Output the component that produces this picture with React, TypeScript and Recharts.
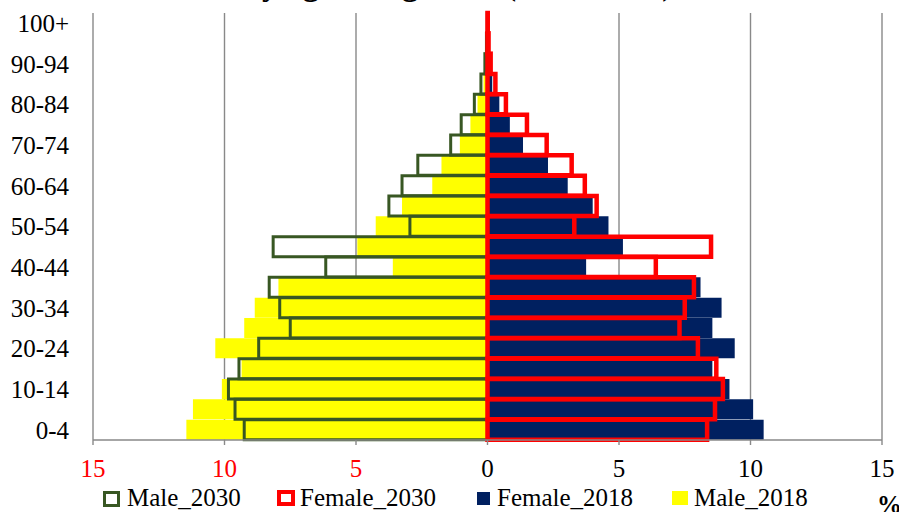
import React from 'react';
import { BarChart, Bar, XAxis, YAxis, CartesianGrid, Legend } from 'recharts';

// age groups, bottom row first
const ageGroups = [
  '0-4', '5-9', '10-14', '15-19', '20-24', '25-29', '30-34', '35-39', '40-44', '45-49',
  '50-54', '55-59', '60-64', '65-69', '70-74', '75-79', '80-84', '85-89', '90-94', '95-99', '100+',
];

// shares in % (male drawn to the left)
const male2018 = [11.45, 11.2, 10.1, 9.35, 10.35, 9.25, 8.85, 7.95, 3.6, 4.95, 4.25, 3.25, 2.1, 1.75, 1.05, 0.65, 0.38, 0.15, 0.06, 0.02, 0.01];
const male2030 = [9.25, 9.6, 9.85, 9.45, 8.7, 7.5, 7.9, 8.3, 6.15, 8.15, 2.95, 3.75, 3.25, 2.65, 1.4, 1.0, 0.5, 0.25, 0.1, 0.04, 0.01];
const female2018 = [10.5, 10.1, 9.2, 8.55, 9.4, 8.55, 8.9, 8.1, 3.75, 5.15, 4.6, 4.0, 3.05, 2.3, 1.35, 0.85, 0.45, 0.18, 0.07, 0.02, 0.01];
const female2030 = [8.35, 8.65, 8.95, 8.7, 8.0, 7.3, 7.5, 7.85, 6.4, 8.5, 3.3, 4.15, 3.7, 3.2, 2.25, 1.5, 0.7, 0.3, 0.12, 0.04, 0.01];

const xTicks = [-15, -10, -5, 0, 5, 10, 15];

const chartData = ageGroups.map((age, i) => ({
  age,
  Male_2018: -male2018[i],
  Female_2018: female2018[i],
  Male_2030: -male2030[i],
  Female_2030: female2030[i],
}));

const FONT = '"Liberation Serif", "Times New Roman", serif';
const GRID = '#898989';

const XTick = (props: any) => {
  const { x, y, payload } = props;
  const v = payload.value;
  return (
    <text x={x} y={y} dy="0.71em" textAnchor="middle" fontSize={25} fontFamily={FONT} fill={v < 0 ? '#FF0000' : '#000000'}>
      {Math.abs(v)}
    </text>
  );
};

const legendItems = [
  { name: 'Male_2030', left: 103, textLeft: 127, icon: { top: 10.5, width: 17, height: 16, background: '#fff', border: '3px solid #385723' } },
  { name: 'Female_2030', left: 277, textLeft: 300, icon: { top: 9.5, width: 18, height: 16, background: '#fff', border: '4px solid #FF0000' } },
  { name: 'Female_2018', left: 477, textLeft: 497, icon: { top: 11.5, width: 13, height: 13, background: '#002060' } },
  { name: 'Male_2018', left: 672, textLeft: 694, icon: { top: 10.5, width: 16, height: 14, background: '#FFFF00' } },
];

const PyramidLegend = () => (
  <div style={{ position: 'relative', width: 899, height: 32 }}>
    {legendItems.map((it) => (
      <React.Fragment key={it.name}>
        <div style={{ position: 'absolute', left: it.left, boxSizing: 'border-box', ...it.icon }} />
        <div style={{ position: 'absolute', left: it.textLeft, top: 4, fontFamily: FONT, fontSize: 25, color: '#000', whiteSpace: 'nowrap' }}>
          {it.name}
        </div>
      </React.Fragment>
    ))}
  </div>
);

export default function App() {
  return (
    <div style={{ position: 'absolute', left: 0, top: 0, width: 899, height: 512, background: '#fff', overflow: 'hidden' }}>
      <BarChart
        width={899}
        height={512}
        data={chartData}
        layout="vertical"
        stackOffset="sign"
        barCategoryGap={0}
        margin={{ top: 13, right: 17, bottom: 0, left: 0 }}
      >
        <CartesianGrid yAxisId="a" horizontal={false} stroke={GRID} strokeWidth={1.4} />
        <XAxis
          type="number"
          domain={[-15, 15]}
          ticks={xTicks}
          allowDataOverflow
          height={40}
          axisLine={{ stroke: GRID, strokeWidth: 1.4 }}
          tickLine={{ stroke: GRID, strokeWidth: 1.4 }}
          tickSize={5}
          tickMargin={14}
          tick={<XTick />}
        />
        <YAxis
          yAxisId="a"
          type="category"
          dataKey="age"
          reversed
          width={93}
          interval={1}
          axisLine={false}
          tickLine={false}
          tickSize={0}
          tickMargin={24}
          tick={{ fill: '#000', fontSize: 25, fontFamily: FONT }}
        />
        <YAxis yAxisId="b" type="category" dataKey="age" reversed hide />
        <Legend verticalAlign="bottom" height={32} content={<PyramidLegend />} wrapperStyle={{ left: 0, top: 480, width: 899, height: 32 }} />
        <Bar dataKey="Male_2018" yAxisId="a" stackId="y18" fill="#FFFF00" isAnimationActive={false} />
        <Bar dataKey="Female_2018" yAxisId="a" stackId="y18" fill="#002060" isAnimationActive={false} />
        <Bar dataKey="Male_2030" yAxisId="b" stackId="y30" fill="none" stroke="#385723" strokeWidth={3} isAnimationActive={false} />
        <Bar dataKey="Female_2030" yAxisId="b" stackId="y30" fill="none" stroke="#FF0000" strokeWidth={4.5} isAnimationActive={false} />
      </BarChart>
      <svg width={899} height={512} style={{ position: 'absolute', left: 0, top: 0, pointerEvents: 'none' }}>
        <text x={244} y={-5.5} fontFamily={FONT} fontSize={32.5} fontWeight="bold" fill="#000">
          by age and gender (2018, 2030)
        </text>
        <text x={877} y={513} fontFamily={FONT} fontSize={25} fontWeight="bold" fill="#000">
          %
        </text>
      </svg>
    </div>
  );
}
